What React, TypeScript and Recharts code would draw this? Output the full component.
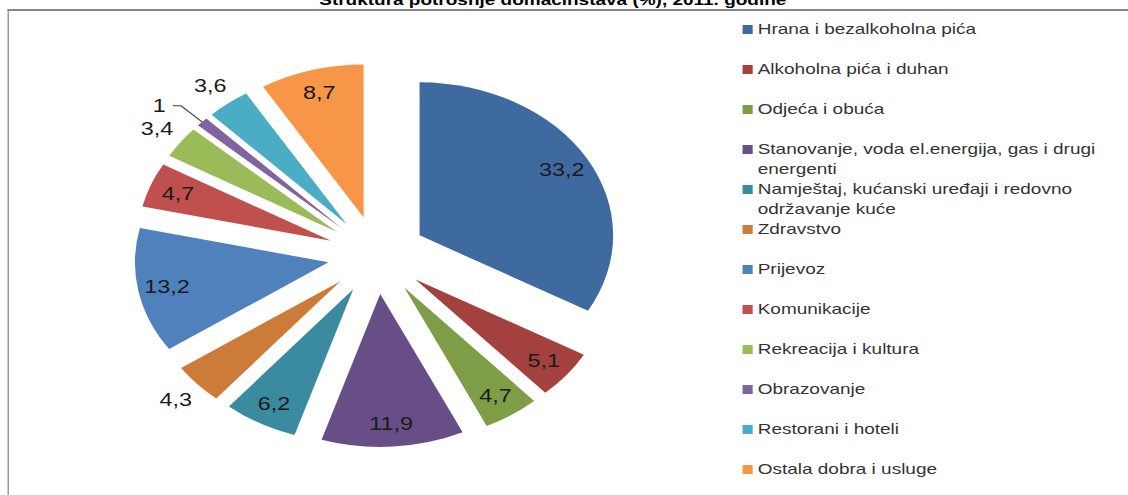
import React from "react";
import { PieChart, Pie, Cell, Sector, Legend } from "recharts";

const categories = [
  "Hrana i bezalkoholna pića",
  "Alkoholna pića i duhan",
  "Odjeća i obuća",
  "Stanovanje, voda el.energija, gas i drugi energenti",
  "Namještaj, kućanski uređaji i redovno održavanje kuće",
  "Zdravstvo",
  "Prijevoz",
  "Komunikacije",
  "Rekreacija i kultura",
  "Obrazovanje",
  "Restorani i hoteli",
  "Ostala dobra i usluge",
];

const shares = [33.2, 5.1, 4.7, 11.9, 6.2, 4.3, 13.2, 4.7, 3.4, 1, 3.6, 8.7];

const colors = [
  "#3F6A9F",
  "#A2413E",
  "#7E9D47",
  "#674E86",
  "#3A8BA0",
  "#CC7B38",
  "#4F81BD",
  "#C0504D",
  "#9BBB59",
  "#8064A2",
  "#4BACC6",
  "#F79646",
];

const title = "Struktura potrošnje domaćinstava (%), 2011. godine";

const data = categories.map((name, i) => ({ name, value: shares[i] }));

// the reference picture is stretched horizontally
const SX = 1.265;
const W = 892;
const H = 495;
const RAD = Math.PI / 180;
const EXPLODE = 39;
const FONT = "'Liberation Sans', Arial, sans-serif";

const ExplodedSector = (props: any) => {
  const { cx, cy, midAngle } = props;
  const dx = EXPLODE * Math.cos(-midAngle * RAD);
  const dy = EXPLODE * Math.sin(-midAngle * RAD);
  return <Sector {...props} cx={cx + dx} cy={cy + dy} />;
};

const renderLabel = (props: any) => {
  const { cx, cy, midAngle, outerRadius, value } = props;
  const cos = Math.cos(-midAngle * RAD);
  const sin = Math.sin(-midAngle * RAD);
  const text = String(value).replace(".", ",");
  const style = { fontFamily: FONT, fontSize: 18.5, fill: "#1a1a1a" };

  if (value > 4.5) {
    const r = EXPLODE + outerRadius * 0.85;
    return (
      <text x={cx + r * cos} y={cy + r * sin} textAnchor="middle" dominantBaseline="central" style={style}>
        {text}
      </text>
    );
  }
  if (value < 2) {
    const tip = EXPLODE + outerRadius;
    const elbow = EXPLODE + outerRadius + 23;
    const x1 = cx + tip * cos;
    const y1 = cy + tip * sin;
    const x2 = cx + elbow * cos;
    const y2 = cy + elbow * sin;
    return (
      <g>
        <polyline points={`${x1},${y1} ${x2},${y2} ${x2 - 6.5},${y2}`} fill="none" stroke="#404040" strokeWidth={1} />
        <text x={x2 - 12} y={y2} textAnchor="end" dominantBaseline="central" style={style}>
          {text}
        </text>
      </g>
    );
  }
  const r = EXPLODE + outerRadius + 23;
  return (
    <text x={cx + r * cos} y={cy + r * sin} textAnchor="middle" dominantBaseline="central" style={style}>
      {text}
    </text>
  );
};

// legend keeps the data order (Recharts sorts its payload by name)
const renderLegend = () => (
  <div style={{ fontFamily: FONT, fontSize: 15, lineHeight: "20px", color: "#333" }}>
    {categories.map((name, i) => (
      <div key={name} style={{ display: "flex", alignItems: "flex-start", height: 40 }}>
        <span
          style={{
            flex: "none",
            width: 8.7,
            height: 9,
            marginTop: 6,
            background: colors[i],
          }}
        />
        <span style={{ marginLeft: 3.7, width: 292 }}>{name}</span>
      </div>
    ))}
  </div>
);

export default function App() {
  return (
    <div
      style={{
        position: "absolute",
        left: 0,
        top: 0,
        width: 1128,
        height: H,
        overflow: "hidden",
        background: "#fff",
      }}
    >
      <div
        style={{
          position: "absolute",
          left: 0,
          top: 0,
          width: W,
          height: H,
          transform: `scaleX(${SX})`,
          transformOrigin: "0 0",
        }}
      >
        <div
          style={{
            position: "absolute",
            left: 5.5,
            top: 9,
            width: 1000,
            height: 600,
            borderTop: "2px solid #878787",
            borderLeft: "1.6px solid #878787",
          }}
        />
        <div
          style={{
            position: "absolute",
            left: 0,
            top: -8.7,
            width: 874,
            textAlign: "center",
            fontFamily: FONT,
            fontWeight: "bold",
            fontSize: 15,
            lineHeight: "17px",
            color: "#000",
          }}
        >
          {title}
        </div>
        <PieChart width={W} height={H} margin={{ top: 0, right: 0, bottom: 0, left: 0 }}>
          <Pie
            data={data}
            dataKey="value"
            nameKey="name"
            cx={298}
            cy={255}
            outerRadius={153}
            startAngle={90}
            endAngle={-270}
            stroke="none"
            isAnimationActive={false}
            shape={ExplodedSector}
            activeShape={ExplodedSector}
            inactiveShape={ExplodedSector}
            label={renderLabel}
            labelLine={false}
          >
            {data.map((entry, i) => (
              <Cell key={entry.name} fill={colors[i]} />
            ))}
          </Pie>
          <Legend
            layout="vertical"
            align="right"
            verticalAlign="top"
            itemSorter={null}
            content={renderLegend}
            wrapperStyle={{ left: 586.6, top: 19, width: 300 }}
          />
        </PieChart>
      </div>
    </div>
  );
}
